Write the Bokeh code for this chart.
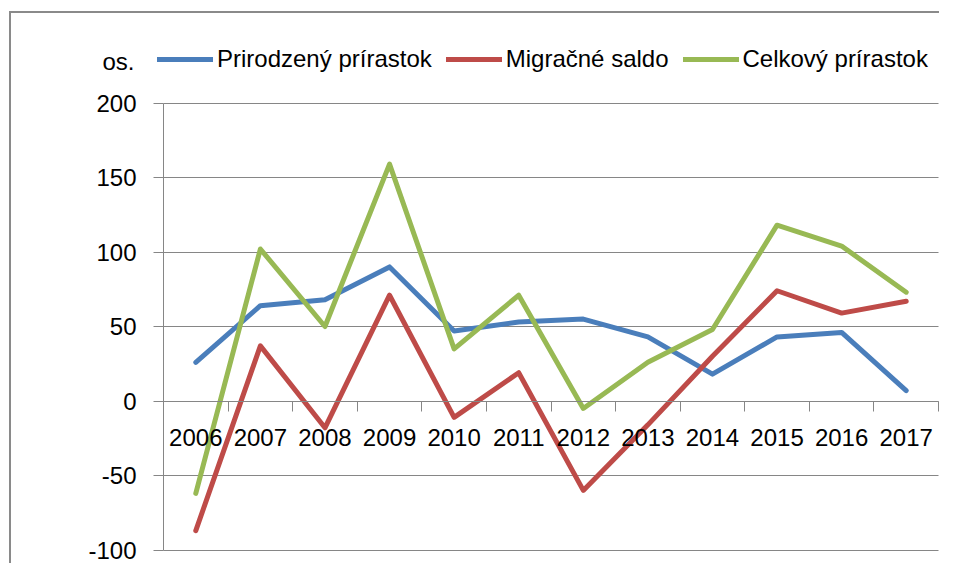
from bokeh.plotting import figure
from bokeh.models import (Range1d, LinearAxis, FixedTicker, Legend, LegendItem,
                          Label, Grid, BoxAnnotation)
from bokeh.embed import file_html
from bokeh.resources import INLINE

years = [2006, 2007, 2008, 2009, 2010, 2011, 2012, 2013, 2014, 2015, 2016, 2017]
prirodzeny = [26, 64, 68, 90, 47, 53, 55, 43, 18, 43, 46, 7]
migracne = [-87, 37, -18, 71, -11, 19, -60, -16, 30, 74, 59, 67]
celkovy = [-62, 102, 50, 159, 35, 71, -5, 26, 48, 118, 104, 73]
y_ticks = [-100, -50, 0, 50, 100, 150, 200]
unit_label = "os."

series = [
    ("Prirodzený prírastok", prirodzeny, "#4A7EBB"),
    ("Migračné saldo", migracne, "#BE4B48"),
    ("Celkový prírastok", celkovy, "#98B954"),
]

FONT = "Liberation Sans"
GRID = "#868686"
BORDER = "#8a8a8a"

# layout (pixels within the canvas)
W, H = 939, 563
PLOT_L, PLOT_R = 163.0, 938.0    # plot area left/right
PLOT_T, PLOT_B = 102.5, 549.5    # plot area top/bottom
FRAME_L, FRAME_T = 9.5, 11.5     # outer chart border

x0, x1 = years[0] - 0.5, years[-1] + 0.5
y0, y1 = y_ticks[0], y_ticks[-1]
sx = (PLOT_R - PLOT_L) / (x1 - x0)
sy = (PLOT_B - PLOT_T) / (y1 - y0)
xr = Range1d(x0 - PLOT_L / sx, x1 + (W - PLOT_R) / sx)
yr = Range1d(y0 - (H - PLOT_B) / sy, y1 + PLOT_T / sy)


def px_x(px):
    return x0 + (px - PLOT_L) / sx


def px_y(py):
    return y1 - (py - PLOT_T) / sy


p = figure(width=W, height=H, output_backend="svg", toolbar_location=None,
           x_range=xr, y_range=yr, x_axis_type=None, y_axis_type=None,
           min_border=0)
p.outline_line_color = None
p.background_fill_color = "white"
p.border_fill_color = "white"

# outer chart border: top and left edges (right and bottom lie beyond the picture)
p.add_layout(BoxAnnotation(left=px_x(FRAME_L - 1), right=xr.end + 5,
                           top=px_y(FRAME_T - 1), bottom=px_y(FRAME_T + 1),
                           fill_color=BORDER, fill_alpha=1, line_color=None))
p.add_layout(BoxAnnotation(left=px_x(FRAME_L - 1), right=px_x(FRAME_L + 1),
                           top=px_y(FRAME_T - 1), bottom=yr.start - 20,
                           fill_color=BORDER, fill_alpha=1, line_color=None))

# horizontal gridlines
p.add_layout(Grid(dimension=1, ticker=FixedTicker(ticks=y_ticks),
                  cross_bounds=(x0, x1),
                  grid_line_color=GRID, grid_line_width=1))

# y axis
yaxis = LinearAxis(fixed_location=x0, bounds=(y0, y1), ticker=FixedTicker(ticks=y_ticks))
yaxis.major_label_overrides = {t: str(t) for t in y_ticks}
yaxis.axis_line_color = GRID
yaxis.major_tick_line_color = GRID
yaxis.major_tick_out = 10
yaxis.major_tick_in = 0
yaxis.minor_tick_line_color = None
yaxis.major_label_standoff = 17
yaxis.major_label_text_font = FONT
yaxis.major_label_text_font_size = "24px"
yaxis.major_label_text_color = "black"
p.add_layout(yaxis, "left")

# x axis at zero
xaxis = LinearAxis(fixed_location=0, bounds=(x0, x1),
                   ticker=FixedTicker(ticks=years,
                                      minor_ticks=[y - 0.5 for y in years] + [x1]))
xaxis.axis_line_color = GRID
xaxis.major_tick_line_color = None
xaxis.major_tick_out = 0
xaxis.major_tick_in = 0
xaxis.minor_tick_line_color = GRID
xaxis.minor_tick_out = 10
xaxis.minor_tick_in = 0
xaxis.major_label_standoff = 18
xaxis.major_label_text_font = FONT
xaxis.major_label_text_font_size = "24px"
xaxis.major_label_text_color = "black"
p.add_layout(xaxis, "below")

items = []
for name, vals, color in series:
    r = p.line(years, vals, line_color=color, line_width=5,
               line_join="round", line_cap="round")
    items.append(LegendItem(label=name, renderers=[r]))

LEG_L, LEG_CY, LEG_H = 157, 61, 24
legend = Legend(items=items, orientation="horizontal",
                location=(LEG_L, H - (LEG_CY + LEG_H / 2)),
                glyph_width=56, glyph_height=LEG_H, label_height=LEG_H,
                label_standoff=4, spacing=14,
                padding=0, margin=0, border_line_color=None,
                background_fill_alpha=0,
                label_text_font=FONT, label_text_font_size="24px",
                label_text_color="black")
p.add_layout(legend, "center")

p.add_layout(Label(x=px_x(102), y=px_y(61), text=unit_label,
                   text_font=FONT, text_font_size="24px", text_color="black",
                   text_baseline="middle", text_align="left"))

open("out.html", "w").write(file_html(p, INLINE))
